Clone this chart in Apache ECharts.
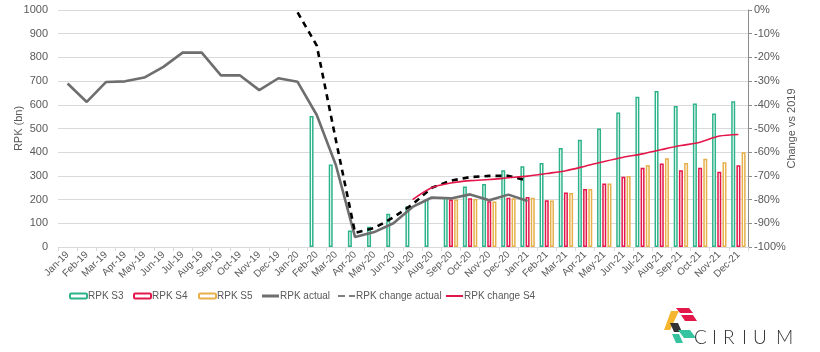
<!DOCTYPE html>
<html>
<head>
<meta charset="utf-8">
<script src="https://cdn.jsdelivr.net/npm/echarts@6/dist/echarts.min.js"></script>
<style>
    html,body{margin:0;padding:0;background:#fff;}
    #chart{width:820px;height:352px;}
</style>
</head>
<body>
<div id="chart"></div>
<script>
var months = ['Jan-19','Feb-19','Mar-19','Apr-19','May-19','Jun-19','Jul-19','Aug-19','Sep-19','Oct-19','Nov-19','Dec-19',
    'Jan-20','Feb-20','Mar-20','Apr-20','May-20','Jun-20','Jul-20','Aug-20','Sep-20','Oct-20','Nov-20','Dec-20',
    'Jan-21','Feb-21','Mar-21','Apr-21','May-21','Jun-21','Jul-21','Aug-21','Sep-21','Oct-21','Nov-21','Dec-21'];

// RPK (bn), left axis
var rpkS3 = [null,null,null,null,null,null,null,null,null,null,null,null,null,
    553,348,70,85,140,172,200,211,255,266,324,341,354,418,453,500,568,634,658,595,606,563,615];
var rpkS4 = [null,null,null,null,null,null,null,null,null,null,null,null,null,null,null,null,null,null,null,null,
    200,206,193,208,211,197,230,245,268,296,334,352,324,334,317,345];
var rpkS5 = [null,null,null,null,null,null,null,null,null,null,null,null,null,null,null,null,null,null,null,null,
    200,203,192,206,208,196,228,245,268,300,346,375,354,372,358,400];
var rpkActual = [690,612,696,699,715,760,820,820,724,724,662,712,697,557,345,42,63,100,169,209,205,222,197,221,194,
    null,null,null,null,null,null,null,null,null,null,null];

// change vs 2019 (%), right axis
var changeActual = [null,null,null,null,null,null,null,null,null,null,null,null,
    -1,-15,-55,-94,-92,-87.5,-82,-75,-72,-70.5,-70,-70,-72,
    null,null,null,null,null,null,null,null,null,null,null];
var changeS4 = [null,null,null,null,null,null,null,null,null,null,null,null,null,null,null,null,null,null,
    -80,-75,-73,-72,-71.5,-70.8,-70.1,-69,-67.8,-65.9,-63.9,-62.1,-60.7,-58.9,-57.2,-55.8,-53.2,-52.5];

(function(){
    var font = "'Liberation Sans',Arial,sans-serif";
    var txt = '#595959';
    var green = '#2DB38A', red = '#E3174A', yellow = '#E6B04A';

    var chart = echarts.init(document.getElementById('chart'));

    // one legend per item so each sits where the original puts it
    function legendAt(name, left, icon, h){
        var l = {
            data:[name],
            left:left,
            top:286,
            itemWidth:17,
            itemHeight:h || 5,
            itemGap:0,
            textStyle:{color:txt,fontSize:10,fontFamily:font,padding:[0,0,0,-4]}
        };
        if(icon){ l.icon = icon; }
        return l;
    }

    function barSeries(name, data, color){
        return {
            name:name,
            type:'bar',
            yAxisIndex:0,
            barWidth:4,
            barGap:'30%',
            data:data,
            itemStyle:{color:'#fff',borderColor:color,borderWidth:1.5}
        };
    }

    var option = {
        animation:false,
        textStyle:{fontFamily:font},
        grid:{left:58,right:72,top:10,bottom:105},
        legend:[
            legendAt('RPK S3',64),
            legendAt('RPK S4',128),
            legendAt('RPK S5',193),
            legendAt('RPK actual',257,'rect',3),
            legendAt('RPK change actual',333,'path://M0,0h7v1h-7z M11,0h6v1h-6z',3),
            legendAt('RPK change S4',441,'rect',2)
        ],
        xAxis:{
            type:'category',
            data:months,
            axisLine:{lineStyle:{color:'#d9d9d9'}},
            axisTick:{show:true,length:4,lineStyle:{color:'#d9d9d9'}},
            axisLabel:{interval:0,rotate:45,color:txt,fontSize:10,fontFamily:font,margin:6}
        },
        yAxis:[
            {
                type:'value',
                name:'RPK (bn)',
                nameLocation:'middle',
                nameRotate:90,
                nameGap:34,
                nameMoveOverlap:false,
                nameTextStyle:{color:txt,fontSize:11,fontFamily:font},
                min:0,max:1000,interval:100,
                axisLine:{show:false},
                axisTick:{show:false},
                axisLabel:{color:txt,fontSize:11,fontFamily:font,margin:10,formatter:function(v){ return String(v); }},
                splitLine:{lineStyle:{color:'#d9d9d9'}}
            },
            {
                type:'value',
                name:'Change vs 2019',
                nameLocation:'middle',
                nameRotate:90,
                nameGap:38,
                nameMoveOverlap:false,
                nameTextStyle:{color:txt,fontSize:11,fontFamily:font},
                min:-100,max:0,interval:10,
                axisLine:{show:true,lineStyle:{color:'#8c8c8c'}},
                axisTick:{show:true,length:4,lineStyle:{color:'#8c8c8c'}},
                axisLabel:{color:txt,fontSize:11,fontFamily:font,margin:6,formatter:'{value}%'},
                splitLine:{show:false}
            }
        ],
        series:[
            barSeries('RPK S3',rpkS3,green),
            barSeries('RPK S4',rpkS4,red),
            barSeries('RPK S5',rpkS5,yellow),
            {
                name:'RPK actual',
                type:'line',
                yAxisIndex:0,
                symbol:'none',
                data:rpkActual,
                lineStyle:{color:'#6e6e6e',width:2.6},
                itemStyle:{color:'#6e6e6e'}
            },
            {
                name:'RPK change actual',
                type:'line',
                yAxisIndex:1,
                symbol:'none',
                data:changeActual,
                lineStyle:{color:'#000',width:2.6,type:[6,5]},
                itemStyle:{color:'#000'}
            },
            {
                name:'RPK change S4',
                type:'line',
                yAxisIndex:1,
                symbol:'none',
                smooth:0.3,
                data:changeS4,
                lineStyle:{color:red,width:1.6},
                itemStyle:{color:red}
            }
        ],
        graphic:[
            // logo mark
            {type:'polygon',shape:{points:[[676,308],[689,308],[693,313],[680,313]]},style:{fill:'#E3174A'}},
            {type:'polygon',shape:{points:[[681,315],[693,315],[697,321],[685,321]]},style:{fill:'#E3174A'}},
            {type:'polygon',shape:{points:[[671,311],[679,311],[670,330],[664,330]]},style:{fill:'#F5B52E'}},
            {type:'polygon',shape:{points:[[670,323],[678,323],[682,332],[674,332]]},style:{fill:'#333'}},
            {type:'polygon',shape:{points:[[678,330],[690,330],[696,338],[684,338]]},style:{fill:'#36C3A0'}},
            {type:'polygon',shape:{points:[[672,334],[679,334],[683,343],[676,343]]},style:{fill:'#36C3A0'}},
            {type:'text',left:694,top:328,style:{text:'C',fill:'#333',font:'300 19px Lato, sans-serif'}},
            {type:'text',left:712,top:328,style:{text:'I',fill:'#333',font:'300 19px Lato, sans-serif'}},
            {type:'text',left:723,top:328,style:{text:'R',fill:'#333',font:'300 19px Lato, sans-serif'}},
            {type:'text',left:742,top:328,style:{text:'I',fill:'#333',font:'300 19px Lato, sans-serif'}},
            {type:'text',left:753,top:328,style:{text:'U',fill:'#333',font:'300 19px Lato, sans-serif'}},
            {type:'text',left:776,top:328,style:{text:'M',fill:'#333',font:'300 19px Lato, sans-serif'}}
        ]
    };

    chart.setOption(option);
})();
</script>
</body>
</html>
